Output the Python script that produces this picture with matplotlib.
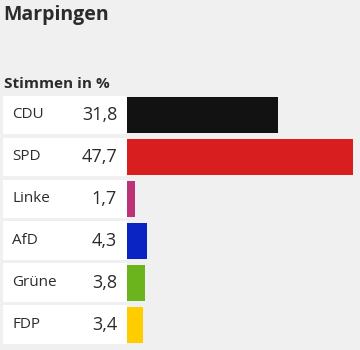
import matplotlib
matplotlib.use('Agg')
import matplotlib.pyplot as plt

# data
parties = ['CDU', 'SPD', 'Linke', 'AfD', 'Grüne', 'FDP']
shares = [31.8, 47.7, 1.7, 4.3, 3.8, 3.4]
colors = ['#121212', '#d81e1e', '#be3277', '#0a24c4', '#6cb41e', '#ffcc00']
title = 'Marpingen'
subtitle = 'Stimmen in %'

plt.rcParams['font.family'] = ['Open Sans', 'DejaVu Sans']
W, H = 360, 350
bg = '#f0f0f0'
txt = '#2b2b2b'
fig = plt.figure(figsize=(W / 100, H / 100), dpi=100, facecolor=bg)

def px_axes(x0, y0, x1, y1):
    # axes placed by pixel box (top-left origin)
    return fig.add_axes([x0 / W, 1 - y1 / H, (x1 - x0) / W, (y1 - y0) / H])

top, bottom = 94, 345.5
ypos = list(range(len(parties)))

# bar panel
ax = px_axes(127, top, W, bottom)
ax.set_facecolor(bg)
ax.barh(ypos, shares, height=0.86, color=colors)
ax.set_xlim(0, (W - 127) / 4.74)
ax.set_ylim(len(parties) - 0.5, -0.5)
ax.axis('off')

# label panel with white boxes
axl = px_axes(3, top, 127, bottom)
axl.set_facecolor(bg)
axl.barh(ypos, [1] * len(parties), height=0.92, color='white')
axl.set_xlim(0, 1)
axl.set_ylim(len(parties) - 0.5, -0.5)
axl.axis('off')
for y, p, v in zip(ypos, parties, shares):
    axl.text(9 / 124, y, p, ha='left', va='center', fontsize=11, color=txt)
    axl.text(114 / 124, y, f'{v:.1f}'.replace('.', ','), ha='right', va='center',
             fontsize=13, color=txt)

fig.text(3 / W, 1 - 15 / H, title, ha='left', va='center', fontsize=14,
         fontweight='bold', color=txt)
fig.text(4 / W, 1 - 84 / H, subtitle, ha='left', va='center', fontsize=11,
         fontweight='bold', color=txt)

fig.savefig('out.png', dpi=100, facecolor=bg)
